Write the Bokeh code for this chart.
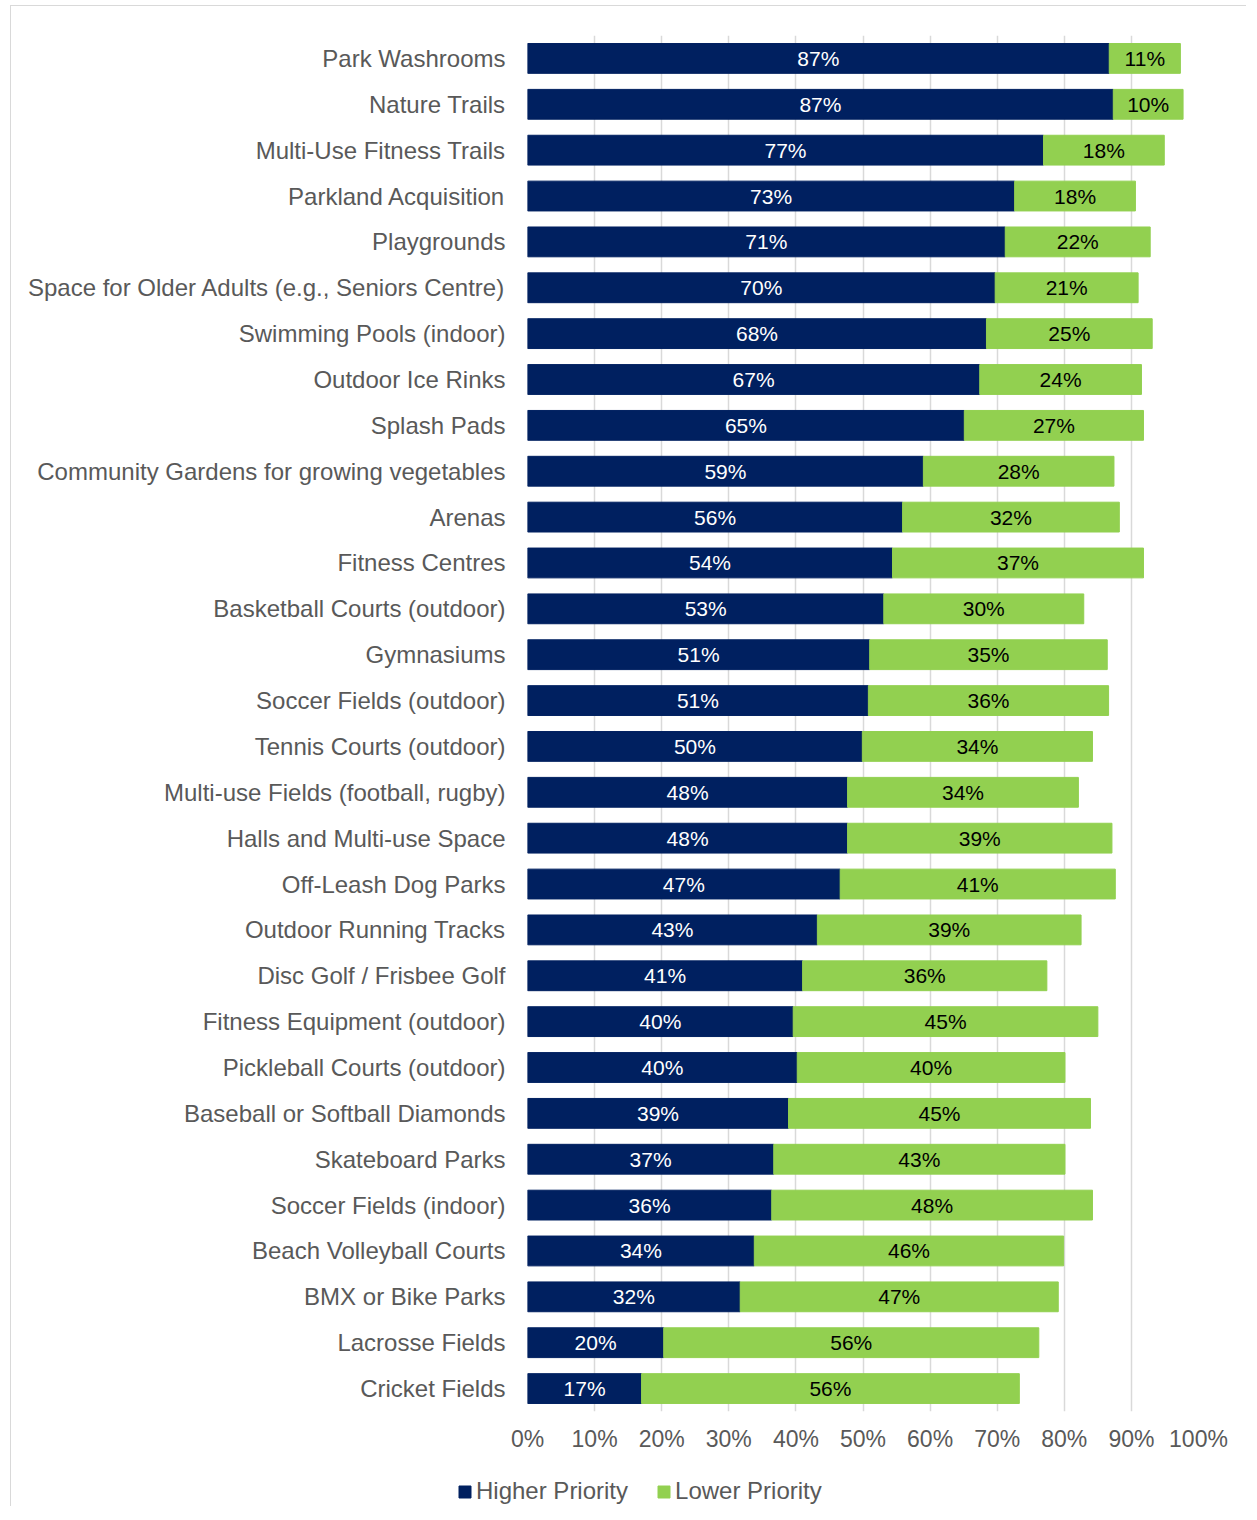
from bokeh.plotting import figure
from bokeh.layouts import column
from bokeh.models import ColumnDataSource, Range1d, FactorRange, FixedTicker, Legend, LegendItem
from bokeh.core.properties import value
from bokeh.embed import file_html
from bokeh.resources import INLINE

categories = [
    "Park Washrooms", "Nature Trails", "Multi-Use Fitness Trails", "Parkland Acquisition",
    "Playgrounds", "Space for Older Adults (e.g., Seniors Centre)", "Swimming Pools (indoor)",
    "Outdoor Ice Rinks", "Splash Pads", "Community Gardens for growing vegetables", "Arenas",
    "Fitness Centres", "Basketball Courts (outdoor)", "Gymnasiums", "Soccer Fields (outdoor)",
    "Tennis Courts (outdoor)", "Multi-use Fields (football, rugby)", "Halls and Multi-use Space",
    "Off-Leash Dog Parks", "Outdoor Running Tracks", "Disc Golf / Frisbee Golf",
    "Fitness Equipment (outdoor)", "Pickleball Courts (outdoor)", "Baseball or Softball Diamonds",
    "Skateboard Parks", "Soccer Fields (indoor)", "Beach Volleyball Courts", "BMX or Bike Parks",
    "Lacrosse Fields", "Cricket Fields",
]
higher = [86.7, 87.3, 76.9, 72.6, 71.2, 69.7, 68.4, 67.4, 65.1, 59.0, 55.9, 54.4, 53.1, 51.0, 50.8,
          49.9, 47.7, 47.7, 46.6, 43.2, 41.0, 39.6, 40.2, 38.9, 36.7, 36.4, 33.8, 31.7, 20.3, 17.0]
lower = [10.6, 10.4, 18.0, 18.0, 21.6, 21.3, 24.7, 24.1, 26.7, 28.4, 32.3, 37.4, 29.8, 35.4, 35.8,
         34.3, 34.4, 39.4, 41.0, 39.3, 36.4, 45.4, 39.9, 45.0, 43.4, 47.8, 46.1, 47.4, 55.9, 56.3]
series_names = ["Higher Priority", "Lower Priority"]
tick_values = list(range(0, 101, 10))

NAVY = "#002060"
GREEN = "#92D050"
FONT = "Liberation Sans"
GREY = "#595959"

src = ColumnDataSource(dict(
    cat=categories,
    h0=[0] * len(higher),
    h1=higher,
    l1=[h + l for h, l in zip(higher, lower)],
    hmid=[h / 2 for h in higher],
    lmid=[h + l / 2 for h, l in zip(higher, lower)],
    htxt=[f"{round(h)}%" for h in higher],
    ltxt=[f"{round(l)}%" for l in lower],
))

p = figure(
    frame_width=671, frame_height=1376,
    x_range=Range1d(0, 100),
    y_range=FactorRange(factors=categories[::-1], range_padding=0, factor_padding=0),
    output_backend="svg", toolbar_location=None,
    min_border_left=516, min_border_right=48, min_border_top=29, min_border_bottom=55,
)
p.outline_line_color = None

p.hbar(y="cat", left="h0", right="h1", height=0.65, color=NAVY, source=src)
p.hbar(y="cat", left="h1", right="l1", height=0.65, color=GREEN, source=src)

p.text(x="hmid", y="cat", text="htxt", source=src, text_align="center", text_baseline="middle",
       text_color="white", text_font=value(FONT), text_font_size="21px")
p.text(x="lmid", y="cat", text="ltxt", source=src, text_align="center", text_baseline="middle",
       text_color="black", text_font=value(FONT), text_font_size="21px")

p.ygrid.grid_line_color = None
p.xgrid.grid_line_color = "#D9D9D9"
p.xgrid.grid_line_width = 1.5
p.xaxis.ticker = FixedTicker(ticks=tick_values)
p.xaxis.major_label_overrides = {t: f"{t}%" for t in tick_values}

for ax in (p.xaxis[0], p.yaxis[0]):
    ax.axis_line_color = None
    ax.major_tick_line_color = None
    ax.minor_tick_line_color = None
    ax.major_tick_out = 0
    ax.major_tick_in = 0
    ax.major_label_text_font = FONT
    ax.major_label_text_color = GREY
p.xaxis.major_label_text_font_size = "23px"
p.yaxis.major_label_text_font_size = "24px"
p.xaxis.major_label_standoff = 14
p.yaxis.major_label_standoff = 22

# legend strip below the chart (swatch renderers sit outside the visible range)
lg = figure(
    frame_width=1235, frame_height=40, x_range=Range1d(0, 1), y_range=Range1d(0, 1),
    output_backend="svg", toolbar_location=None,
    x_axis_location=None, y_axis_location=None,
    min_border_left=0, min_border_right=0, min_border_top=0, min_border_bottom=0,
)
lg.outline_line_color = None
lg.grid.visible = False
d1 = lg.hbar(y=[-5], left=[-5], right=[-4], height=0.5, color=NAVY)
d2 = lg.hbar(y=[-5], left=[-5], right=[-4], height=0.5, color=GREEN)
legend = Legend(
    items=[LegendItem(label=series_names[0], renderers=[d1]),
           LegendItem(label=series_names[1], renderers=[d2])],
    location=(446, 1), orientation="horizontal",
    glyph_width=15, glyph_height=15, label_standoff=4, spacing=28, padding=0, margin=0,
    label_text_font=FONT, label_text_font_size="24px", label_text_color=GREY,
    label_height=28, border_line_color=None, background_fill_alpha=0,
)
lg.add_layout(legend, "center")

layout = column(p, lg, spacing=0)
layout.styles = {"border-left": "1px solid #D9D9D9", "border-top": "1px solid #D9D9D9",
                 "margin-left": "10px", "margin-top": "5px"}

open("out.html", "w").write(file_html(layout, INLINE))
